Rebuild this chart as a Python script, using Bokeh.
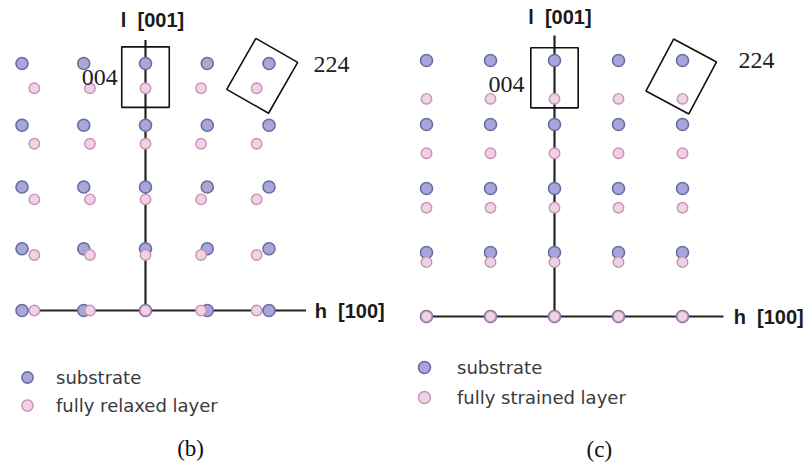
import numpy as np
from bokeh.plotting import figure
from bokeh.layouts import row
from bokeh.models import Legend, LegendItem
from bokeh.core.properties import value
from bokeh.embed import file_html
from bokeh.resources import INLINE

# Reciprocal lattice indices of the substrate
h_sub = [-2, -1, 0, 1, 2]
l_sub = [0, 1, 2, 3, 4]

# (b) fully relaxed layer: larger cell -> shorter reciprocal spacing in h and l
h_relaxed = [-1.8, -0.9, 0.0, 0.9, 1.8]
l_relaxed = [0.0, 0.9, 1.8, 2.7, 3.6]

# (c) fully strained layer: in-plane matched to substrate, stretched along l
h_strained = [-2, -1, 0, 1, 2]
l_strained = [0.0, 0.85, 1.7, 2.55, 3.4]

# Measurement windows around 004 and 224: (h, l, width, height, angle in rad)
boxes_b = [(0.0, 3.78, 0.77, 0.98, 0.0), (1.89, 3.80, 0.78, 0.95, -0.52)]
boxes_c = [(0.0, 3.73, 0.74, 0.94, 0.0), (1.98, 3.75, 0.76, 0.92, -0.49)]

SUB_FILL, SUB_LINE = "#a7a7d8", "#6b6ba6"
LAY_FILL, LAY_LINE = "#efd3e4", "#c792b4"


def grid(hs, ls):
    H, L = np.meshgrid(hs, ls)
    return H.ravel(), L.ravel()


def panel(width, height, px_per_unit, origin_px, layer_h, layer_l, boxes,
          layer_label, lab):
    ox, oy = origin_px
    p = figure(width=width, height=height, output_backend="svg",
               toolbar_location=None, x_axis_type=None, y_axis_type=None,
               x_range=(-ox / px_per_unit, (width - ox) / px_per_unit),
               y_range=(-(height - oy) / px_per_unit, oy / px_per_unit),
               min_border=0)
    p.outline_line_color = None
    p.xgrid.visible = False
    p.ygrid.visible = False

    # h and l axes
    p.line([min(h_sub), lab["h_end"]], [0, 0], line_color="#222222", line_width=2.2)
    p.line([0, 0], [0, lab["l_end"]], line_color="#222222", line_width=2.2)

    sx, sy = grid(h_sub, l_sub)
    lx, ly = grid(layer_h, layer_l)
    r_sub = p.scatter(sx, sy, marker="circle", size=12, fill_color=SUB_FILL,
                      line_color=SUB_LINE, line_width=1.6)
    r_lay = p.scatter(lx, ly, marker="circle", size=10.5, fill_color=LAY_FILL,
                      line_color=LAY_LINE, line_width=1.4)

    bx = [b[0] for b in boxes]
    by = [b[1] for b in boxes]
    bw = [b[2] for b in boxes]
    bh = [b[3] for b in boxes]
    ba = [b[4] for b in boxes]
    p.rect(bx, by, bw, bh, angle=ba, fill_color=None, line_color="#111111",
           line_width=1.6)

    serif = value("Liberation Serif")
    p.text([lab["t004"][0]], [lab["t004"][1]], text=["004"], text_font=serif,
           text_font_size="24px", text_align="right", text_baseline="middle",
           text_color="#222222")
    p.text([lab["t224"][0]], [lab["t224"][1]], text=["224"], text_font=serif,
           text_font_size="24px", text_align="left", text_baseline="middle",
           text_color="#222222")

    bold = value("Liberation Sans")
    p.text([lab["lax"][0]], [lab["lax"][1]], text=["l\u00a0 [001]"], text_font=bold,
           text_font_style="bold", text_font_size="20px", text_align="left",
           text_baseline="middle", text_color="#1a1a1a")
    p.text([lab["hax"][0]], [lab["hax"][1]], text=["h\u00a0 [100]"], text_font=bold,
           text_font_style="bold", text_font_size="20px", text_align="left",
           text_baseline="middle", text_color="#1a1a1a")

    p.text([lab["cap"][0]], [lab["cap"][1]], text=[lab["cap_text"]], text_font=serif,
           text_font_size="23px", text_align="center", text_baseline="middle",
           text_color="#111111")

    g = lab["leg_glyph"]
    leg = Legend(items=[LegendItem(label="substrate", renderers=[r_sub]),
                        LegendItem(label=layer_label, renderers=[r_lay])],
                 location=lab["leg_loc"], orientation="vertical",
                 background_fill_alpha=0, border_line_alpha=0,
                 padding=0, margin=0, spacing=0,
                 glyph_width=g, glyph_height=g, label_height=g,
                 label_standoff=lab["leg_standoff"],
                 label_text_font="DejaVu Sans", label_text_font_size="18px",
                 label_text_color="#3a3a3a")
    p.add_layout(leg)
    return p


p_b = panel(404, 464, 61.75, (145, 310), h_relaxed, l_relaxed, boxes_b,
            "fully relaxed layer",
            dict(h_end=2.6, l_end=4.38, t004=(-0.45, 3.77), t224=(2.72, 3.98),
                 lax=(-0.40, 4.70), hax=(2.74, 0.0), cap=(0.73, -2.23),
                 cap_text="(b)", leg_loc=(13, 45), leg_glyph=28,
                 leg_standoff=15))

p_c = panel(404, 464, 64.0, (150, 316), h_strained, l_strained, boxes_c,
            "fully strained layer",
            dict(h_end=2.64, l_end=4.39, t004=(-0.47, 3.63), t224=(2.875, 4.0),
                 lax=(-0.41, 4.68), hax=(2.8, 0.0), cap=(0.70, -2.08),
                 cap_text="(c)", leg_loc=(5, 52), leg_glyph=30,
                 leg_standoff=18))

layout = row(p_b, p_c, spacing=0)
open("out.html", "w").write(file_html(layout, INLINE))
